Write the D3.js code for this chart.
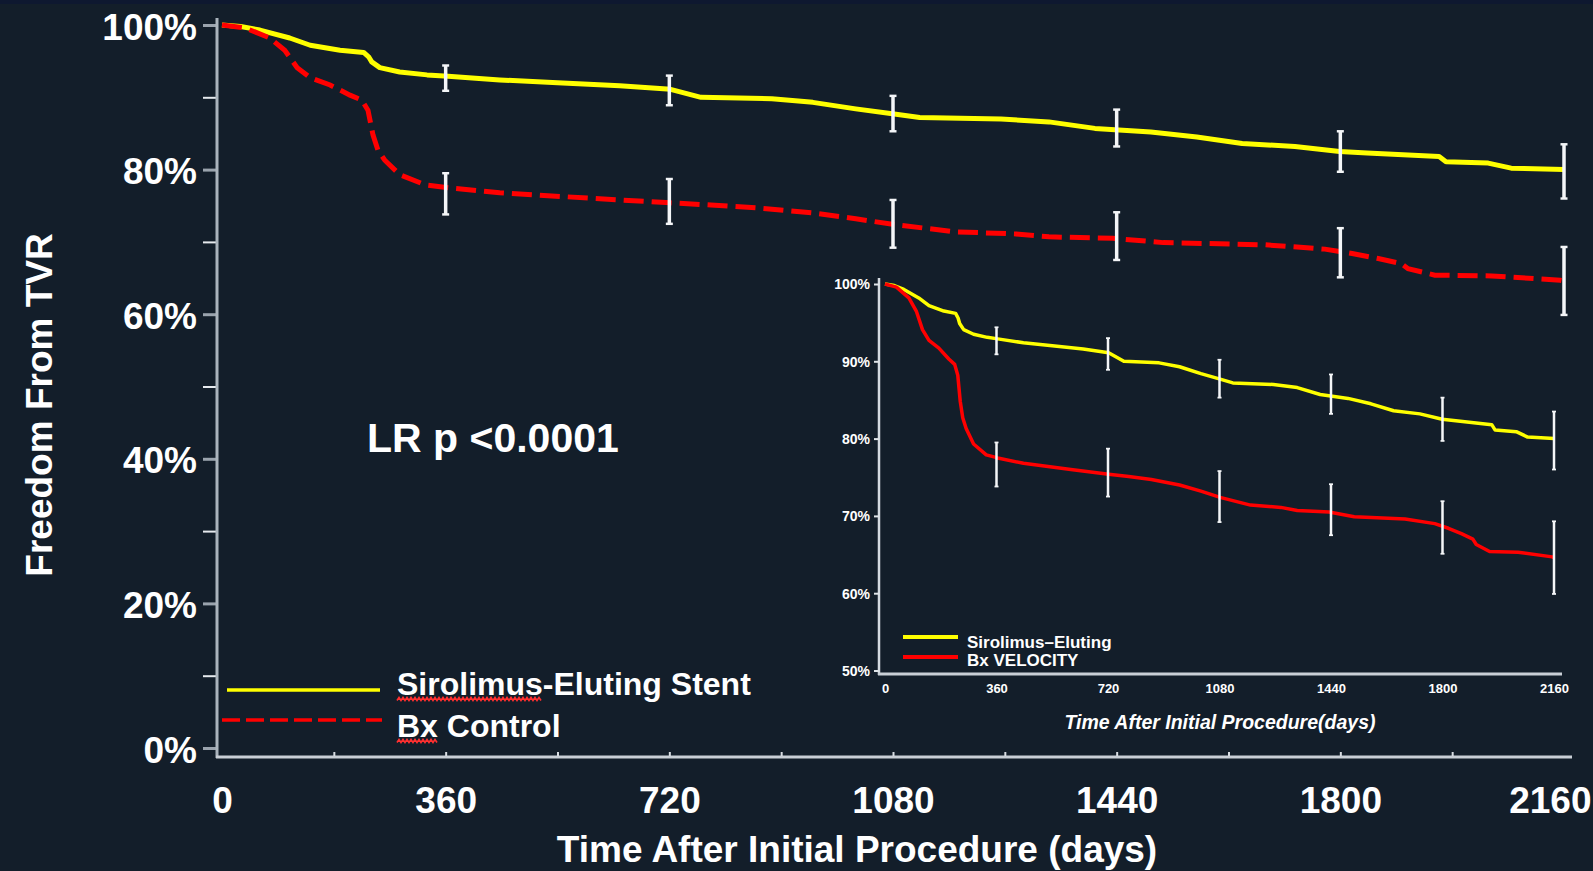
<!DOCTYPE html>
<html>
<head>
<meta charset="utf-8">
<script src="https://cdn.jsdelivr.net/npm/d3@7"></script>
<style>
  html, body { margin: 0; padding: 0; background: #131e2a; }
  svg { display: block; }
  text { font-family: "Liberation Sans", Arial, sans-serif; fill: #ffffff; font-weight: bold; }
</style>
</head>
<body>
<svg id="chart" width="1593" height="871"></svg>
<script>
// Kaplan-Meier freedom from TVR, days after the index procedure
const sesDays = [0, 30, 61, 109, 142, 190, 228, 236, 241, 254, 286, 330, 364, 447, 540, 640, 722, 771, 885, 951, 1020, 1082, 1123, 1254, 1331, 1405, 1495, 1569, 1642, 1727, 1799, 1843, 1959, 1970, 2038, 2075, 2160];
const sesSurv = [100, 99.8, 99.3, 98.2, 97.2, 96.5, 96.2, 95.6, 94.9, 94.1, 93.5, 93.1, 92.9, 92.4, 92.0, 91.6, 91.1, 90.0, 89.8, 89.3, 88.4, 87.7, 87.2, 87.0, 86.6, 85.7, 85.2, 84.5, 83.6, 83.2, 82.5, 82.3, 81.8, 81.1, 80.9, 80.2, 80.0];

const bxDays = [0, 37, 77, 101, 121, 142, 174, 206, 225, 235, 243, 251, 262, 286, 327, 364, 447, 600, 722, 787, 860, 951, 1020, 1082, 1180, 1278, 1331, 1434, 1515, 1679, 1775, 1819, 1861, 1898, 1909, 1952, 2044, 2154, 2160];
const bxSurv = [100, 99.6, 98.2, 96.5, 94.1, 92.7, 91.7, 90.3, 89.6, 88.2, 84.8, 82.7, 81.3, 79.3, 77.9, 77.5, 76.8, 76.0, 75.4, 75.1, 74.7, 74.0, 73.2, 72.4, 71.4, 71.1, 70.7, 70.5, 69.9, 69.6, 69.0, 68.4, 67.7, 67.0, 66.3, 65.4, 65.3, 64.7, 64.6];

// confidence intervals at yearly marks
const ciDays = [360, 720, 1080, 1440, 1800, 2160];
const sesLo = [90.9, 88.9, 85.3, 83.2, 79.7, 76.0];
const sesHi = [94.4, 93.0, 90.2, 88.3, 85.3, 83.5];
const bxLo = [73.8, 72.5, 69.2, 67.5, 65.1, 59.9];
const bxHi = [79.5, 78.7, 75.8, 74.1, 71.9, 69.3];

// axis ticks
const xTicks = [0, 360, 720, 1080, 1440, 1800, 2160];
const yTicks = [0, 20, 40, 60, 80, 100];
const yMinorTicks = [0, 10, 20, 30, 40, 50, 60, 70, 80, 90, 100];
const insetYTicks = [50, 60, 70, 80, 90, 100];

// labels
const seriesNames = ["Sirolimus-Eluting Stent", "Bx Control"];
const insetNames = ["Sirolimus\u2013Eluting", "Bx VELOCITY"];
const yTitle = "Freedom From TVR";
const xTitle = "Time After Initial Procedure (days)";
const insetXTitle = "Time After Initial Procedure(days)";
const pText = "LR p <0.0001";

const YELLOW = "#ffff00", RED = "#ff0000";
const dayFmt = d3.format("d");

const svg = d3.select("#chart");
svg.append("rect").attr("width", 1593).attr("height", 871).attr("fill", "#131e2a");
svg.append("rect").attr("width", 1593).attr("height", 4).attr("fill", "#0e1830");

const ses = sesDays.map((d, i) => [d, sesSurv[i]]);
const bx = bxDays.map((d, i) => [d, bxSurv[i]]);

// ---------- main plot ----------
const x = d3.scaleLinear().domain([0, 2160]).range([222, 1564]);
const y = d3.scaleLinear().domain([0, 100]).range([748, 25]);

// tick marks on the value axis
const yTickG = svg.append("g").attr("transform", "translate(217,0)")
  .call(d3.axisLeft(y).tickValues(yMinorTicks).tickSize(14).tickFormat(""));
yTickG.select(".domain").remove();
yTickG.selectAll(".tick line")
  .attr("stroke", d => d % 20 === 0 ? "#9aa3ad" : "#e6eaee")
  .attr("stroke-width", d => d % 20 === 0 ? 3 : 2);

// value labels
const yLabG = svg.append("g").attr("transform", "translate(217,0)")
  .call(d3.axisLeft(y).tickValues(yTicks).tickFormat(d => d + "%").tickSize(0).tickPadding(20));
yLabG.select(".domain").remove();
yLabG.selectAll("text").attr("font-size", 37).attr("dy", "0.38em");

// axis lines
svg.append("line").attr("x1", 217).attr("x2", 217).attr("y1", 18).attr("y2", 758)
  .attr("stroke", "#aab3bc").attr("stroke-width", 3);
svg.append("line").attr("x1", 216).attr("x2", 1572).attr("y1", 757).attr("y2", 757)
  .attr("stroke", "#c9cfd6").attr("stroke-width", 3);

// time labels
const xLabG = svg.append("g").attr("transform", "translate(0,757)")
  .call(d3.axisBottom(x).tickValues(xTicks).tickFormat(dayFmt).tickSize(0).tickPadding(30));
xLabG.select(".domain").remove();
xLabG.selectAll("text").attr("font-size", 37);
// keep the last label inside the right edge
xLabG.selectAll("text").filter(d => d === 2160).attr("text-anchor", "end").attr("x", 27);

// small upward ticks along the time axis
const xTickG = svg.append("g").attr("transform", "translate(0,756)")
  .call(d3.axisBottom(x).tickValues(d3.range(180, 2160, 180)).tickSize(-4).tickFormat(""));
xTickG.select(".domain").remove();
xTickG.selectAll(".tick line").attr("stroke", "#d8dde2").attr("stroke-width", 2);

const line = d3.line().x(d => x(d[0])).y(d => y(d[1]));

svg.append("path").datum(ses).attr("d", line)
  .attr("fill", "none").attr("stroke", YELLOW).attr("stroke-width", 5).attr("stroke-linejoin", "round");
svg.append("path").datum(bx).attr("d", line)
  .attr("fill", "none").attr("stroke", RED).attr("stroke-width", 5)
  .attr("stroke-dasharray", "20,8");

function errorBars(g, xs, ys, lo, hi, w, cap) {
  ciDays.forEach((d, i) => {
    const cx = xs(d);
    g.append("line").attr("x1", cx).attr("x2", cx).attr("y1", ys(hi[i])).attr("y2", ys(lo[i]))
      .attr("stroke", "#f4f6f8").attr("stroke-width", w);
    [hi[i], lo[i]].forEach(v => {
      g.append("line").attr("x1", cx - cap).attr("x2", cx + cap).attr("y1", ys(v)).attr("y2", ys(v))
        .attr("stroke", "#f4f6f8").attr("stroke-width", w * 0.7);
    });
  });
}
const mainBars = svg.append("g");
errorBars(mainBars, x, y, sesLo, sesHi, 3.5, 3.5);
errorBars(mainBars, x, y, bxLo, bxHi, 3.5, 3.5);

// p-value annotation
svg.append("text").attr("x", 367).attr("y", 452).attr("font-size", 41).text(pText);

// axis titles
svg.append("text").attr("transform", "translate(52,405) rotate(-90)")
  .attr("text-anchor", "middle").attr("font-size", 37).text(yTitle);
svg.append("text").attr("x", 857).attr("y", 862)
  .attr("text-anchor", "middle").attr("font-size", 37).text(xTitle);

// legend
svg.append("line").attr("x1", 227).attr("x2", 380).attr("y1", 690).attr("y2", 690)
  .attr("stroke", YELLOW).attr("stroke-width", 3.5);
svg.append("line").attr("x1", 222).attr("x2", 382).attr("y1", 720).attr("y2", 720)
  .attr("stroke", RED).attr("stroke-width", 3.5).attr("stroke-dasharray", "18,6");
const leg1 = svg.append("text").attr("x", 397).attr("y", 695).attr("font-size", 32).text(seriesNames[0]);
const leg2 = svg.append("text").attr("x", 397).attr("y", 737).attr("font-size", 32).text(seriesNames[1]);

// wavy underline beneath the first word of each legend entry
function wavy(x0, x1, yy) {
  const pts = [];
  for (let px = x0, k = 0; px <= x1; px += 2, k++) pts.push([px, yy + (k % 2 ? -1.5 : 1.5)]);
  return d3.line()(pts);
}
[[leg1, 9], [leg2, 2]].forEach(([t, n]) => {
  const w = t.node().getSubStringLength(0, n);
  const yy = +t.attr("y") + 4;
  svg.append("path").attr("d", wavy(397, 397 + w, yy))
    .attr("fill", "none").attr("stroke", "#ff3030").attr("stroke-width", 1.6);
});

// ---------- inset (50%-100% close-up) ----------
const xi = d3.scaleLinear().domain([0, 2160]).range([885, 1554]);
const yi = d3.scaleLinear().domain([50, 100]).range([670.5, 284]);

svg.append("line").attr("x1", 879).attr("x2", 879).attr("y1", 278).attr("y2", 675)
  .attr("stroke", "#d5dbe1").attr("stroke-width", 2.5);
svg.append("line").attr("x1", 878).attr("x2", 1562).attr("y1", 674).attr("y2", 674)
  .attr("stroke", "#c9cfd6").attr("stroke-width", 3);

const yiG = svg.append("g").attr("transform", "translate(879,0)")
  .call(d3.axisLeft(yi).tickValues(insetYTicks).tickFormat(d => d + "%").tickSize(5).tickPadding(4));
yiG.select(".domain").remove();
yiG.selectAll(".tick line").attr("stroke", "#e0e4e8").attr("stroke-width", 2);
yiG.selectAll("text").attr("font-size", 14).attr("dy", "0.35em");

const xiG = svg.append("g").attr("transform", "translate(0,674)")
  .call(d3.axisBottom(xi).tickValues(xTicks).tickFormat(dayFmt).tickSize(0).tickPadding(10));
xiG.select(".domain").remove();
xiG.selectAll("text").attr("font-size", 13);

const lineI = d3.line().x(d => xi(d[0])).y(d => yi(d[1]));
svg.append("path").datum(ses).attr("d", lineI)
  .attr("fill", "none").attr("stroke", YELLOW).attr("stroke-width", 3.5).attr("stroke-linejoin", "round");
svg.append("path").datum(bx).attr("d", lineI)
  .attr("fill", "none").attr("stroke", RED).attr("stroke-width", 3.5).attr("stroke-linejoin", "round");

const insetBars = svg.append("g");
errorBars(insetBars, xi, yi, sesLo, sesHi, 2.5, 2);
errorBars(insetBars, xi, yi, bxLo, bxHi, 2.5, 2);

svg.append("line").attr("x1", 903).attr("x2", 958).attr("y1", 637).attr("y2", 637)
  .attr("stroke", YELLOW).attr("stroke-width", 4);
svg.append("line").attr("x1", 903).attr("x2", 958).attr("y1", 657).attr("y2", 657)
  .attr("stroke", RED).attr("stroke-width", 4);
svg.append("text").attr("x", 967).attr("y", 648).attr("font-size", 17).text(insetNames[0]);
svg.append("text").attr("x", 967).attr("y", 666).attr("font-size", 17).text(insetNames[1]);

svg.append("text").attr("x", 1220).attr("y", 729).attr("text-anchor", "middle")
  .attr("font-size", 19.5).attr("font-style", "italic").text(insetXTitle);
</script>
</body>
</html>
